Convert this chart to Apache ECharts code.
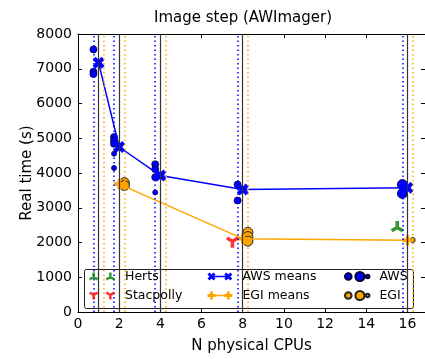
<!DOCTYPE html>
<html><head><meta charset="utf-8">
<script src="https://cdn.jsdelivr.net/npm/echarts@6/dist/echarts.min.js"></script>
<style>html,body{margin:0;padding:0;background:#fff}#c{width:425px;height:359px}</style>
</head><body><div id="c"></div>
<script>
// ---- data ----
const cpus = [1, 2, 4, 8, 16];
const yTicks = [0, 1000, 2000, 3000, 4000, 5000, 6000, 7000, 8000];
const xTicks = [0, 2, 4, 6, 8, 10, 12, 14, 16];

const awsCpu  = [1, 1, 1, 2, 2, 2, 2, 2, 4, 4, 4, 4, 8, 8, 16, 16];
const awsTime = [7556, 6915, 6850, 5034, 4937, 4842, 4556, 4146, 4250, 4110, 3880, 3440, 3668, 3209, 3668, 3410];
const awsClass = ['m', 'm', 'm', 'm', 'm', 'm', 's', 's', 'm', 'm', 'm', 's', 'm', 'm', 'l', 'l'];

const egiCpu  = [2, 2, 8, 8, 8, 16];
const egiTime = [3720, 3640, 2290, 2170, 2040, 2072];
const egiClass = ['l', 'l', 'l', 'l', 'l', 's'];

const awsMeanTime = [7170, 4748, 3925, 3524, 3572];
const egiMeanCpu  = [2, 8, 16];
const egiMeanTime = [3680, 2110, 2065];

const hertsCpu = [16];
const hertsTime = [2456];
const stacpollyCpu = [8];
const stacpollyTime = [2014];

// ---- rendering helpers ----
const sizeOf = { s: 5, m: 7, l: 10 };
const dodge = { aws: -0.25, egi: 0.25, local: -0.5 };

function shift(polys, dx, dy) { return polys.map(p => p.map(q => [q[0] + dx, q[1] + dy])); }
function bbox(polys) {
  let x0 = Infinity, y0 = Infinity, x1 = -Infinity, y1 = -Infinity;
  polys.forEach(p => p.forEach(q => { x0 = Math.min(x0, q[0]); y0 = Math.min(y0, q[1]); x1 = Math.max(x1, q[0]); y1 = Math.max(y1, q[1]); }));
  return { x0, y0, x1, y1, w: x1 - x0, h: y1 - y0 };
}
function norm(polys) { const b = bbox(polys); return shift(polys, -b.x0, -b.y0); }
function polyPath(polys) {
  return polys.map(p => 'M' + p.map(q => q[0].toFixed(2) + ' ' + q[1].toFixed(2)).join('L') + 'Z').join(' ');
}
function arms(angles, L, w) {
  return angles.map(a => {
    const d = [Math.cos(a), Math.sin(a)], n = [-d[1], d[0]], b = -w * 0.3;
    const s = [d[0] * b, d[1] * b];
    return [
      [s[0] + n[0] * w / 2, s[1] + n[1] * w / 2],
      [d[0] * L + n[0] * w / 2, d[1] * L + n[1] * w / 2],
      [d[0] * L - n[0] * w / 2, d[1] * L - n[1] * w / 2],
      [s[0] - n[0] * w / 2, s[1] - n[1] * w / 2]
    ];
  });
}
const DEG = Math.PI / 180;
const triUp = arms([-90 * DEG, 30 * DEG, 150 * DEG], 10, 5.5);
const triDown = arms([90 * DEG, -30 * DEG, -150 * DEG], 10, 5.5);
const xPoly = [[[-10, -5], [-5, -10], [0, -5], [5, -10], [10, -5], [5, 0], [10, 5], [5, 10], [0, 5], [-5, 10], [-10, 5], [-5, 0]]];
const plusPoly = [[[-3.5, -10], [3.5, -10], [3.5, -3.5], [10, -3.5], [10, 3.5], [3.5, 3.5], [3.5, 10], [-3.5, 10], [-3.5, 3.5], [-10, 3.5], [-10, -3.5], [-3.5, -3.5]]];
const bar = [[[0, -1.8], [42, -1.8], [42, 1.8], [0, 1.8]]];

const P = s => 'path://' + s;
function pair(poly, gap, withBar) {
  let polys = poly.concat(shift(poly, gap, 0));
  if (withBar) polys = polys.concat(bar);
  return P(polyPath(norm(polys)));
}
const iconTriUp2 = pair(triUp, 36, false);
const iconTriDown2 = pair(triDown, 36, false);
const iconX2 = pair(xPoly, 42, true);
const iconPlus2 = pair(plusPoly, 42, true);
function circ(cx, cy, r) {
  return `M${cx - r} ${cy} A${r} ${r} 0 1 0 ${cx + r} ${cy} A${r} ${r} 0 1 0 ${cx - r} ${cy} Z`;
}
const iconCircles = P(circ(3.3, 4.5, 3.3) + ' ' + circ(14.9, 4.5, 4.5) + ' ' + circ(22.6, 4.5, 1.8));

const FONT = 'DejaVu Sans';
const BLUE = '#0000ff', ORANGE = '#ffa500', GREEN = '#008000', RED = '#ff0000';
const XMAX = 16.85;

const chart = echarts.init(document.getElementById('c'), null, { renderer: 'canvas' });

const lineData = [];
cpus.forEach(c => {
  lineData.push({ xAxis: c, lineStyle: { color: '#333', width: 1.2, type: 'solid' } });
  lineData.push({ xAxis: c + dodge.aws, lineStyle: { color: BLUE, width: 1.5, type: [1.5, 3] } });
  lineData.push({ xAxis: c + dodge.egi, lineStyle: { color: ORANGE, width: 1.5, type: [1.5, 3] } });
});

const legendText = { fontFamily: FONT, fontSize: 12.5, color: '#000', lineHeight: 15 };
function mkLegend(left, names, icons, w, h) {
  return {
    orient: 'vertical', left: left, top: 269, itemGap: 4, itemWidth: w, itemHeight: h,
    selectedMode: false, z: 10, padding: 0,
    textStyle: Object.assign({ padding: [0, 0, 0, 5] }, legendText),
    data: names.map((n, i) => ({ name: n, icon: icons[i] }))
  };
}

const axisCommonX = {
  type: 'value', min: 0, max: XMAX, interval: 2,
  splitLine: { show: false },
  axisLine: { show: true, onZero: false, lineStyle: { color: '#000', width: 1 } },
  axisTick: { show: true, inside: true, length: 4, lineStyle: { color: '#000' } }
};
const axisCommonY = {
  type: 'value', min: 0, max: 8000, interval: 1000,
  splitLine: { show: false },
  axisLine: { show: true, onZero: false, lineStyle: { color: '#000', width: 1 } },
  axisTick: { show: true, inside: true, length: 4, lineStyle: { color: '#000' } }
};

const option = {
  animation: false,
  backgroundColor: '#fff',
  title: {
    text: 'Image step (AWImager)', left: 154, top: 11, padding: 0,
    textStyle: { fontFamily: FONT, fontSize: 15, fontWeight: 'normal', color: '#000' }
  },
  grid: { left: 78, right: 0, top: 34, bottom: 46, containLabel: false },
  xAxis: [
    Object.assign({}, axisCommonX, {
      position: 'bottom',
      name: 'N physical CPUs', nameLocation: 'middle', nameGap: 27, nameMoveOverlap: false,
      nameTextStyle: { fontFamily: FONT, fontSize: 15, color: '#000' },
      axisLabel: {
        fontFamily: FONT, fontSize: 14, color: '#000', margin: 5, showMaxLabel: false,
        formatter: v => (xTicks.indexOf(v) >= 0 ? String(v) : '')
      }
    }),
    Object.assign({}, axisCommonX, { position: 'top', axisLabel: { show: false } })
  ],
  yAxis: [
    Object.assign({}, axisCommonY, {
      position: 'left',
      name: 'Real time (s)', nameLocation: 'middle', nameGap: 43, nameRotate: 90, nameMoveOverlap: false,
      nameTextStyle: { fontFamily: FONT, fontSize: 15, color: '#000' },
      axisLabel: {
        fontFamily: FONT, fontSize: 14, color: '#000', margin: 6,
        formatter: v => (yTicks.indexOf(v) >= 0 ? String(v) : '')
      }
    }),
    Object.assign({}, axisCommonY, { position: 'right', axisLabel: { show: false } })
  ],
  legend: [
    mkLegend(89, ['Herts', 'Stacpolly'], [iconTriUp2, iconTriDown2], 26, 9),
    mkLegend(207.5, ['AWS means', 'EGI means'], [iconX2, iconPlus2], 25, 8),
    mkLegend(344, ['AWS', 'EGI'], [iconCircles, iconCircles], 24.4, 9)
  ],
  graphic: [{
    type: 'rect', z: 5, silent: true,
    shape: { x: 84.5, y: 269.5, width: 329, height: 39, r: 2 },
    style: { fill: '#fff', stroke: '#222', lineWidth: 1 }
  }],
  series: [
    {
      name: 'cpuLines', type: 'line', data: [], z: 1, silent: true,
      markLine: { symbol: 'none', silent: true, label: { show: false }, data: lineData, animation: false }
    },
    {
      name: 'AWS', type: 'scatter', z: 3,
      symbol: 'circle',
      data: awsCpu.map((c, i) => ({ value: [c + dodge.aws, awsTime[i]], symbolSize: sizeOf[awsClass[i]] })),
      itemStyle: { color: BLUE, borderColor: '#000033', borderWidth: 0.8, opacity: 1 }
    },
    {
      name: 'EGI', type: 'scatter', z: 3,
      symbol: 'circle',
      data: egiCpu.map((c, i) => ({ value: [c + dodge.egi, egiTime[i]], symbolSize: sizeOf[egiClass[i]] })),
      itemStyle: { color: ORANGE, borderColor: '#222', borderWidth: 1, opacity: 1 }
    },
    {
      name: 'AWS means', type: 'line', z: 4,
      data: cpus.map((c, i) => [c, awsMeanTime[i]]),
      symbol: P(polyPath(xPoly)), symbolSize: 12, showAllSymbol: true,
      lineStyle: { color: BLUE, width: 1.5 },
      itemStyle: { color: BLUE, borderWidth: 0 }
    },
    {
      name: 'EGI means', type: 'line', z: 4,
      data: egiMeanCpu.map((c, i) => [c, egiMeanTime[i]]),
      symbol: P(polyPath(plusPoly)), symbolSize: 10, showAllSymbol: true,
      lineStyle: { color: ORANGE, width: 1.5 },
      itemStyle: { color: ORANGE, borderWidth: 0 }
    },
    {
      name: 'Herts', type: 'scatter', z: 4,
      symbol: P(polyPath(triUp)), symbolSize: 13, symbolKeepAspect: true,
      data: hertsCpu.map((c, i) => [c + dodge.local, hertsTime[i]]),
      itemStyle: { color: GREEN }
    },
    {
      name: 'Stacpolly', type: 'scatter', z: 4,
      symbol: P(polyPath(triDown)), symbolSize: 13, symbolKeepAspect: true,
      data: stacpollyCpu.map((c, i) => [c + dodge.local, stacpollyTime[i]]),
      itemStyle: { color: RED }
    }
  ]
};
chart.setOption(option);
</script>
</body></html>
